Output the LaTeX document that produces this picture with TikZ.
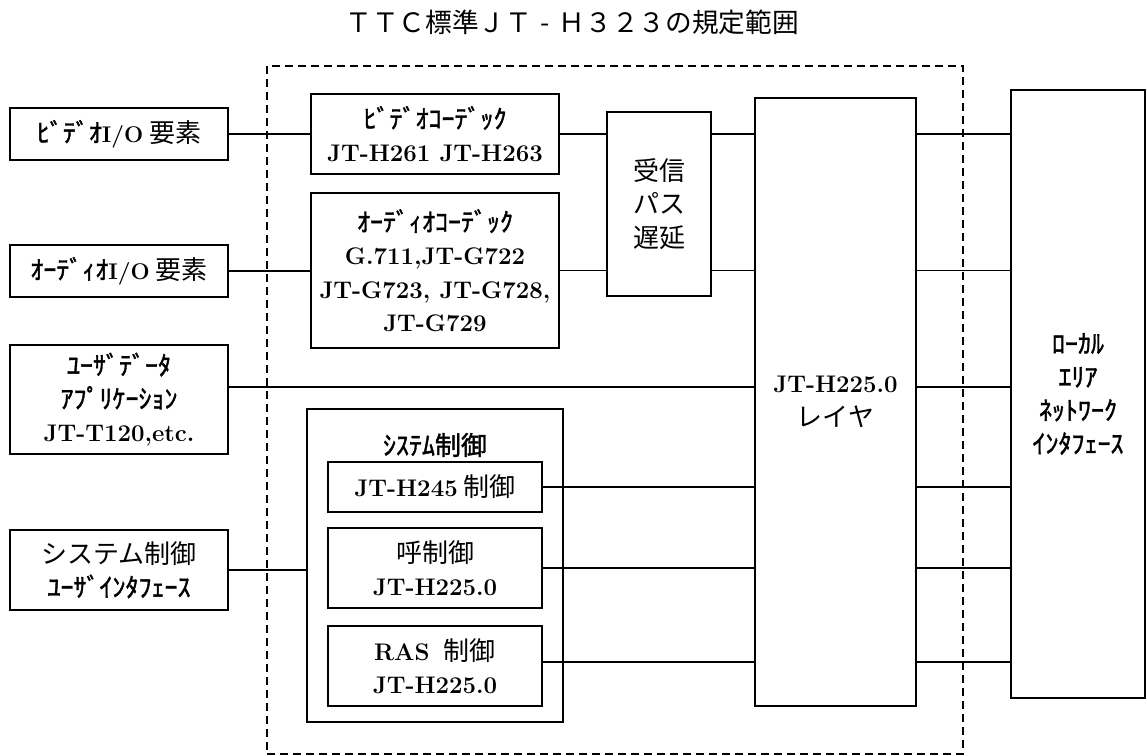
\documentclass[tikz,border=0pt]{standalone}
\usepackage{fontspec}
\newfontfamily\jp{Noto Sans CJK JP}
\newfontfamily\hkfont{Noto Sans CJK JP}[FakeBold=1.5]
\newcommand{\hk}[1]{{\hkfont #1}}
\newcommand{\latb}[1]{{\rmfamily\bfseries\fontsize{18}{25}\selectfont #1}}
\newcommand{\lati}[1]{{\rmfamily\bfseries\fontsize{17}{25}\selectfont #1}}
\begin{document}
\begin{tikzpicture}[x=0.75pt,y=-0.75pt,
  box/.style={draw, line width=1.1pt, inner sep=0pt, outer sep=0pt, align=center,
    font=\jp\fontsize{19.5}{25}\selectfont},
  plain/.style={inner sep=0pt, align=center, font=\jp\fontsize{19.5}{25}\selectfont},
  conn/.style={line width=1.1pt},
  rangebox/.style={draw, line width=1.1pt, dash pattern=on 6pt off 3.75pt, inner sep=0pt, outer sep=0pt}
]
\useasboundingbox (0,0) rectangle (1147,756);

% title
\node[plain, font=\jp\fontsize{20}{24}\selectfont] (title) at (572,22) {ＴＴＣ標準ＪＴ\makebox[1em]{-}Ｈ３２３の規定範囲};

% scope of standard (dashed)
\node[rangebox, minimum width=522pt, minimum height=516pt] (range) at (615,410) {};

% left-side external elements
\node[box, minimum width=163.5pt, minimum height=39pt] (vio) at (119,134) {\hk{ﾋﾞﾃﾞｵ}\lati{I/O} 要素};
\node[box, minimum width=163.5pt, minimum height=39pt] (aio) at (119,271) {\hk{ｵｰﾃﾞｨｵ}\lati{I/O} 要素};
\node[box, minimum width=163.5pt, minimum height=81.75pt] (ud) at (119,399.5) {\hk{ﾕｰｻﾞﾃﾞｰﾀ}\\\hk{ｱﾌﾟﾘｹｰｼｮﾝ}\\\latb{JT-T120,etc.}};
\node[box, minimum width=163.5pt, minimum height=60pt] (sui) at (119,570) {システム制御\\\hk{ﾕｰｻﾞｲﾝﾀﾌｪｰｽ}};

% codecs
\node[box, minimum width=186pt, minimum height=60pt] (vc) at (435,134) {\hk{ﾋﾞﾃﾞｵｺｰﾃﾞｯｸ}\\\latb{JT-H261 JT-H263}};
\node[box, minimum width=186pt, minimum height=116.25pt] (ac) at (435,270.5) {\hk{ｵｰﾃﾞｨｵｺｰﾃﾞｯｸ}\\\latb{G.711,JT-G722}\\\latb{JT-G723, JT-G728,}\\\latb{JT-G729}};

% receive path delay
\node[box, minimum width=78pt, minimum height=138pt] (rx) at (659,204) {受信\\パス\\遅延};

% system control
\node[box, minimum width=192pt, minimum height=234.75pt] (sys) at (435,565.5) {};
\node[plain] (systitle) at (435,445) {\hk{ｼｽﾃﾑ制御}};
\node[box, minimum width=160.5pt, minimum height=37.5pt] (h245) at (435,487) {\latb{JT-H245} 制御};
\node[box, minimum width=160.5pt, minimum height=60pt] (call) at (435,568) {呼制御\\\latb{JT-H225.0}};
\node[box, minimum width=160.5pt, minimum height=60pt] (ras) at (435,666) {\latb{RAS}\hspace{0.55em}制御\\\latb{JT-H225.0}};

% layer
\node[box, minimum width=120.75pt, minimum height=456pt] (layer) at (835.5,402) {\latb{JT-H225.0}\\レイヤ};

% LAN interface
\node[box, minimum width=100.5pt, minimum height=456pt] (lan) at (1078,394) {\hk{ﾛｰｶﾙ}\\\hk{ｴﾘｱ}\\\hk{ﾈｯﾄﾜｰｸ}\\\hk{ｲﾝﾀﾌｪｰｽ}};

% connectors
\draw[conn] (vio.east) -- (vio.east -| vc.west);
\draw[conn] (vc.east) -- (vc.east -| rx.west);
\draw[conn] (vc.east -| rx.east) -- (vc.east -| layer.west);
\draw[conn] (vc.east -| layer.east) -- (vc.east -| lan.west);

\draw[conn] (aio.east) -- (aio.east -| ac.west);
\draw[conn] (ac.east) -- (ac.east -| rx.west);
\draw[conn] (ac.east -| rx.east) -- (ac.east -| layer.west);
\draw[conn] (ac.east -| layer.east) -- (ac.east -| lan.west);

\coordinate (udc) at ([yshift=9.4pt]ud.east);
\draw[conn] (udc) -- (udc -| layer.west);
\draw[conn] (udc -| layer.east) -- (udc -| lan.west);

\draw[conn] (sui.east) -- (sui.east -| sys.west);

\draw[conn] (h245.east) -- (h245.east -| layer.west);
\draw[conn] (h245.east -| layer.east) -- (h245.east -| lan.west);
\draw[conn] (call.east) -- (call.east -| layer.west);
\draw[conn] (call.east -| layer.east) -- (call.east -| lan.west);
\coordinate (rasc) at ([yshift=3pt]ras.east);
\draw[conn] (rasc) -- (rasc -| layer.west);
\draw[conn] (rasc -| layer.east) -- (rasc -| lan.west);
\end{tikzpicture}
\end{document}
